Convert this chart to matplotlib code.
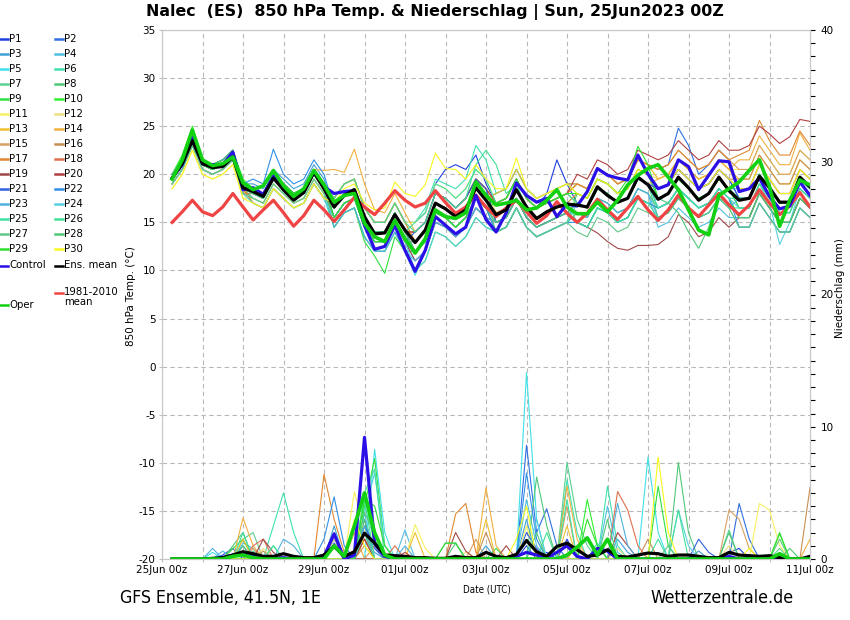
import numpy as np
import matplotlib
matplotlib.use("Agg")
import matplotlib.pyplot as plt
from matplotlib.lines import Line2D
from matplotlib.ticker import MultipleLocator

# forecast steps: 25Jun2023 06z ... 11Jul2023 00z, every 6 h
hours = np.arange(6, 385, 6)
days = hours / 24.0

tick_days = [0, 2, 4, 6, 8, 10, 12, 14, 16]
tick_labels = ["25Jun 00z", "27Jun 00z", "29Jun 00z", "01Jul 00z", "03Jul 00z",
               "05Jul 00z", "07Jul 00z", "09Jul 00z", "11Jul 00z"]

# 850 hPa temperature (deg C)
t_ensmean = [19.6, 21.1, 23.5, 21.1, 20.7, 20.8, 21.8, 18.6, 18.2, 17.7, 19.6, 18.4, 17.3, 18.1, 20.2, 18.5,
             16.6, 17.8, 18.4, 15.6, 13.8, 13.9, 15.8, 14.2, 12.9, 14.2, 17.0, 16.4, 15.6, 16.3, 18.6, 17.3,
             15.8, 16.3, 18.4, 16.6, 15.4, 16.1, 16.6, 16.9, 16.8, 16.6, 18.7, 17.8, 17.1, 17.5, 19.7, 18.9,
             17.4, 18.0, 19.7, 18.6, 17.3, 18.0, 19.7, 18.3, 17.3, 17.5, 19.8, 18.6, 17.1, 17.1, 19.7, 18.7]
t_control = [19.6, 21.0, 23.8, 21.1, 21.0, 21.0, 22.3, 18.4, 18.6, 17.9, 19.8, 18.4, 17.4, 18.2, 20.3, 18.7,
             18.0, 18.2, 18.3, 14.7, 12.2, 12.5, 14.7, 12.1, 9.9, 12.1, 15.6, 14.7, 13.8, 14.5, 17.8, 15.3,
             14.0, 16.0, 19.1, 17.8, 17.1, 17.5, 15.6, 16.9, 16.7, 18.2, 20.6, 19.9, 19.6, 19.4, 22.0, 20.0,
             18.5, 18.9, 21.5, 20.8, 18.4, 19.9, 21.4, 21.3, 18.2, 18.5, 19.6, 17.7, 16.4, 16.7, 19.2, 17.8]
t_oper = [19.5, 21.5, 24.6, 21.5, 20.9, 21.1, 21.8, 19.1, 18.4, 18.8, 20.4, 18.8, 17.7, 18.5, 20.4, 18.9,
          17.1, 17.8, 18.0, 14.9, 13.5, 13.0, 15.2, 13.3, 11.8, 13.3, 16.3, 15.6, 15.4, 16.0, 19.2, 17.8,
          16.8, 17.0, 17.3, 16.3, 16.5, 17.3, 18.4, 16.6, 15.9, 15.9, 17.1, 16.1, 17.3, 18.9, 19.9, 20.6,
          21.0, 19.7, 18.4, 16.3, 14.2, 13.7, 17.8, 18.5, 19.2, 20.4, 21.5, 18.7, 14.6, 17.3, 19.4, 18.9]
t_clim = [15.0, 16.1, 17.3, 16.1, 15.7, 16.6, 18.0, 16.6, 15.25, 16.3, 17.3, 16.0, 14.6, 15.7, 17.3, 16.3,
          15.1, 16.3, 17.6, 16.6, 15.8, 17.0, 18.3, 17.3, 16.6, 17.0, 18.3, 17.05, 15.95, 16.6, 17.85, 16.6,
          15.6, 16.5, 17.3, 16.1, 14.9, 15.7, 17.15, 15.95, 15.0, 15.95, 17.4, 16.3, 15.3, 16.5, 17.7, 16.3,
          15.2, 16.3, 17.85, 16.5, 15.6, 16.8, 18.0, 16.8, 15.8, 16.8, 18.4, 17.0, 15.8, 16.7, 18.1, 16.6]

t_p01 = [19.5, 21, 23.5, 21, 20.5, 21, 22, 18.5, 18.5, 18, 20, 19, 18, 18.5, 20.5, 19,
         17.5, 19, 19.5, 16.5, 15, 15, 17, 15, 15, 16, 19, 20.5, 21, 20.5, 22, 19,
         17, 17.5, 19.5, 17.5, 16.5, 18, 21.5, 19, 17, 16.5, 18.5, 18, 17, 17.5, 19.5, 19,
         18.5, 19, 20.5, 19.5, 18.5, 19, 20.5, 19.5, 17.5, 17.5, 20, 18.5, 17, 17, 19.5, 18.5]
t_p02 = [19, 20.5, 23, 20.5, 20, 20.5, 21.5, 18, 18, 17.5, 19.5, 18.5, 17.5, 18, 20, 18.5,
         15.5, 17, 17.5, 14.5, 13, 13, 15, 13, 13, 14, 17, 16.5, 15.5, 16.5, 18.5, 17.5,
         18, 18.5, 20.5, 18.5, 17.5, 18, 18.5, 19, 19, 18.5, 20.5, 20, 19, 19.5, 21.5, 21,
         20.5, 21, 24.8, 23, 20, 21, 22.5, 21.5, 18.5, 18.5, 21, 19.5, 18, 18, 20.5, 19.5]
t_p03 = [20, 21.5, 24, 21.5, 21, 21.5, 22.5, 19, 19, 18.5, 20.5, 19.5, 18.5, 19, 21, 19.5,
         16.5, 18, 18.5, 15.5, 14, 14, 16, 14, 12, 13, 16, 15.5, 14.5, 15.5, 17.5, 16.5,
         15, 15.5, 17.5, 15.5, 14.5, 15, 15.5, 16, 15, 14.5, 16.5, 16, 15, 15.5, 17.5, 17,
         16.5, 17, 18.5, 17.5, 16.5, 17, 18.5, 17.5, 15.5, 15.5, 18, 16.5, 15, 15, 17.5, 16.5]
t_p04 = [19.5, 21, 23, 21, 20.5, 21, 22, 18.5, 17.5, 17, 19, 18, 17, 17.5, 19.5, 18,
         15.5, 17, 17.5, 14.5, 13, 13, 15, 13, 11, 12, 15, 14.5, 13.5, 14.5, 16.5, 15.5,
         14, 14.5, 16.5, 14.5, 13.5, 14, 14.5, 15, 16, 15.5, 17.5, 17, 16, 16.5, 18.5, 18,
         14.5, 15, 16.5, 15.5, 14.5, 15, 16.5, 15.5, 15.5, 15.5, 18, 16.5, 15, 15, 17.5, 16.5]
t_p05 = [19, 20.5, 23, 20.5, 20, 20.5, 21.5, 18, 17, 16.5, 18.5, 17.5, 16.5, 17, 19, 17.5,
         14.5, 16, 16.5, 13.5, 12, 12, 14, 12, 9.5, 12, 15, 14.5, 13.5, 14.5, 16.5, 15.5,
         15, 15.5, 17.5, 15.5, 14.5, 15, 15.5, 16, 15, 14.5, 16.5, 16, 15, 15.5, 17.5, 17,
         17.5, 18, 19.5, 18.5, 17.5, 18, 19.5, 18.5, 16.5, 16.5, 19, 17.5, 16, 16, 18.5, 17.5]
t_p06 = [19.5, 21, 23.5, 21, 20.5, 21, 22, 18.5, 18.5, 18, 20, 19, 18, 18.5, 20.5, 19,
         17.5, 19, 19.5, 16.5, 15, 15, 17, 15, 15, 16.5, 19.5, 19, 18.5, 19.5, 23, 21.5,
         18, 18.5, 20.5, 18.5, 17.5, 18, 18.5, 19, 18, 17.5, 19.5, 19, 18, 18.5, 20.5, 20,
         17.5, 18, 19.5, 18.5, 17.5, 18, 19.5, 18.5, 18.5, 18.5, 21, 19.5, 18, 18, 20.5, 19.5]
t_p07 = [20, 21.5, 24, 21.5, 21, 21.5, 22.5, 19, 18, 17.5, 19.5, 18.5, 17.5, 18, 20, 18.5,
         15.5, 17, 17.5, 14.5, 13, 13, 15, 13, 13, 14, 17, 16.5, 15.5, 16.5, 18.5, 17.5,
         17, 17.5, 19.5, 17.5, 16.5, 17, 17.5, 18, 17, 16.5, 18.5, 18, 17, 17.5, 19.5, 19,
         15.5, 16, 17.5, 16.5, 15.5, 16, 17.5, 16.5, 14.5, 14.5, 17, 15.5, 14, 14, 16.5, 15.5]
t_p08 = [19.5, 21, 23.5, 21, 20.5, 21, 22, 18.5, 17.5, 17, 19, 18, 17, 17.5, 19.5, 18,
         14.5, 16, 16.5, 13.5, 12, 12, 14, 12, 12, 13, 16, 15.5, 14.5, 15.5, 17.5, 16.5,
         14, 14.5, 16.5, 14.5, 13.5, 14, 14.5, 15, 16, 15.5, 17.5, 17, 16, 16.5, 18.5, 18,
         16.5, 17, 18.5, 17.5, 16.5, 17, 18.5, 17.5, 15.5, 15.5, 18, 16.5, 15, 15, 17.5, 16.5]
t_p09 = [20, 21.5, 24.5, 21.5, 21, 21.5, 22.5, 19, 18, 17.5, 19.5, 18.5, 17.5, 18, 20, 18.5,
         14.5, 16, 16.5, 13, 11.5, 9.7, 13.5, 12, 10, 11, 14, 13.5, 12.5, 13.5, 15.5, 14.5,
         14, 14.5, 16.5, 14.5, 13.5, 14, 14.5, 15, 18, 17.5, 19.5, 19, 18, 18.5, 20.5, 20,
         17.5, 18, 19.5, 18.5, 17.5, 18, 19.5, 18.5, 16.5, 16.5, 19, 17.5, 16, 16, 18.5, 17.5]
t_p10 = [20, 22, 25, 21.5, 21, 21.5, 22.5, 19.5, 18.5, 18, 20, 19, 18, 18.5, 20.5, 19,
         16.5, 18, 18.5, 15.5, 14, 14, 16, 14, 14, 15, 18, 17.5, 16.5, 17.5, 19.5, 18.5,
         15, 15.5, 17.5, 15.5, 14.5, 15, 15.5, 16, 15, 14.5, 16.5, 16, 15, 15.5, 17.5, 17,
         16.5, 17, 18.5, 17.5, 16.5, 17, 18.5, 17.5, 15.5, 15.5, 18, 16.5, 15, 15, 17.5, 16.5]
t_p11 = [19, 20.5, 23, 20.5, 20, 20.5, 21.5, 18, 17, 16.5, 18.5, 17.5, 16.5, 17, 19, 17.5,
         17.5, 19, 19.5, 16.5, 15, 15, 17, 15, 15, 16, 19, 18.5, 17.5, 18.5, 20.5, 19.5,
         17, 17.5, 19.5, 17.5, 16.5, 17, 17.5, 18, 19, 18.5, 20.5, 20, 19, 19.5, 21.5, 21,
         19.5, 20, 21.5, 20.5, 19.5, 20, 21.5, 20.5, 20.5, 20.5, 23, 21.5, 20, 20, 22.5, 21.5]
t_p12 = [18.5, 20, 22.5, 20, 19.5, 20, 21, 17.5, 17.5, 17, 19, 18, 17, 17.5, 19.5, 18,
         16.5, 18, 18.5, 15.5, 14, 14, 16, 14, 14, 15, 18, 17.5, 16.5, 17.5, 19.5, 18.5,
         16, 16.5, 18.5, 16.5, 15.5, 16, 16.5, 17, 18, 17.5, 19.5, 19, 18, 18.5, 20.5, 20,
         19.5, 20, 21.5, 20.5, 19.5, 20, 21.5, 20.5, 18.5, 18.5, 21, 19.5, 18, 18, 20.5, 19.5]
t_p13 = [19.5, 21, 23.5, 21, 20.5, 21, 22, 18.5, 18, 17.5, 19.5, 18.5, 17.5, 18, 20, 18.5,
         17.5, 19, 19.5, 16.5, 15, 15, 17, 15, 13, 14, 17, 16.5, 15.5, 16.5, 18.5, 17.5,
         18, 18.5, 20.5, 18.5, 17.5, 18, 18.5, 19, 19, 18.5, 20.5, 20, 19, 19.5, 21.5, 21,
         19.5, 20, 21.5, 20.5, 19.5, 20, 21.5, 20.5, 19.5, 19.5, 22, 20.5, 19, 19, 21.5, 20.5]
t_p14 = [19, 20.5, 23, 20.5, 20, 20.5, 21.5, 18, 18.5, 18, 20, 19, 18, 18.5, 20.5, 20.4,
         20.5, 20.2, 22.6, 19, 16.3, 16, 18, 16, 14, 15, 18, 17.5, 16.5, 17.5, 19.5, 18.5,
         17, 17.5, 19.5, 17.5, 16.5, 17, 17.5, 18, 17, 16.5, 18.5, 18, 17, 17.5, 19.5, 19,
         19.5, 20, 21.5, 20.5, 19.5, 20, 21.5, 20.5, 21.5, 21.5, 24, 22.5, 21, 21, 24.3, 22.5]
t_p15 = [19.5, 21, 23.5, 21, 20.5, 21, 22, 18.5, 17, 16.5, 18.5, 17.5, 16.5, 17, 19, 17.5,
         16.5, 18, 18.5, 15.5, 14, 14, 16, 14, 14, 15, 18, 17.5, 16.5, 17.5, 19.5, 18.5,
         17, 17.5, 19.5, 17.5, 16.5, 17, 17.5, 18, 19, 18.5, 20.5, 20, 19, 19.5, 21.5, 21,
         20.5, 21, 22.5, 21.5, 20.5, 21, 22.5, 21.5, 20.5, 20.5, 23, 21.5, 20, 20, 22.5, 21.5]
t_p16 = [19, 20.5, 23, 20.5, 20, 20.5, 21.5, 18, 18, 17.5, 19.5, 18.5, 17.5, 18, 20, 18.5,
         16.5, 18, 18.5, 15.5, 14, 14, 16, 14, 12, 13, 16, 15.5, 14.5, 15.5, 17.5, 16.5,
         16, 16.5, 18.5, 16.5, 15.5, 16, 16.5, 17, 18, 17.5, 19.5, 19, 18, 18.5, 20.5, 20,
         18.5, 19, 20.5, 19.5, 18.5, 19, 20.5, 19.5, 19.5, 19.5, 22, 20.5, 19, 19, 21.5, 20.5]
t_p17 = [19.5, 21, 23.5, 21, 20.5, 21, 22, 18.5, 17, 16.5, 18.5, 17.5, 16.5, 17, 19, 17.5,
         17.5, 19, 19.5, 16.5, 15, 15, 17, 15, 13, 14, 17, 16.5, 15.5, 16.5, 18.5, 17.5,
         17, 17.5, 19.5, 17.5, 16.5, 17, 17.5, 18, 19, 18.5, 20.5, 20, 19, 19.5, 21.5, 21,
         20.5, 21, 22.5, 21.5, 20.5, 21, 22.5, 21.5, 22, 22.5, 25.6, 23.5, 22, 22, 24.5, 23]
t_p18 = [20, 21.5, 24, 21.5, 21, 21.5, 22.5, 19, 18.5, 18, 20, 19, 18, 18.5, 20.5, 19,
         16.5, 18, 18.5, 15.5, 14, 14, 16, 14, 14, 15, 18, 17.5, 16.5, 17.5, 19.5, 18.5,
         15, 15.5, 17.5, 15.5, 14.5, 15, 15.5, 16, 17, 16.5, 18.5, 18, 17, 17.5, 19.5, 19,
         18.5, 19, 20.5, 19.5, 18.5, 19, 20.5, 19.5, 18.5, 18.5, 21, 19.5, 18, 18, 20.5, 19.5]
t_p19 = [19.5, 21, 23.5, 21, 20.5, 21, 22, 18.5, 18, 17.5, 19.5, 18.5, 17.5, 18, 20, 18.5,
         15.5, 17, 17.5, 14.5, 13, 13, 15, 13, 11, 12, 15, 14.5, 13.5, 14.5, 16.5, 15.5,
         15, 15.5, 17.5, 15.5, 14.5, 15, 15.5, 16, 15, 14.5, 13.9, 13, 12.3, 12.1, 12.6, 12.6,
         12.7, 13.5, 15.8, 15, 13.5, 14, 15.5, 14.5, 15.5, 15.5, 18, 16.5, 15, 15, 17.5, 16.5]
t_p20 = [19.5, 21, 23.5, 21, 20.5, 21, 22, 18.5, 18.5, 18, 20, 19, 18, 18.5, 20.5, 19,
         16.5, 18, 18.5, 15.5, 14, 14, 16, 14, 14, 15, 18, 17.5, 16.5, 17.5, 19.5, 18.5,
         17, 17.5, 19.5, 17.5, 16.5, 17, 17.5, 18, 20, 19.5, 21.5, 21, 20, 20.5, 22.5, 22,
         21.5, 22, 23.5, 22.5, 21.5, 22, 23.5, 22.5, 22.5, 23, 25, 24.2, 23.2, 23.9, 25.7, 25.5]
t_p21 = [19.5, 21, 23.5, 21, 20.5, 21, 22, 18.5, 18.5, 18, 20, 19, 18, 18.5, 20.5, 19,
         15.5, 17, 17.5, 14.5, 13, 13, 15, 13, 14, 15, 18, 17.5, 16.5, 17.5, 19.5, 18.5,
         15, 15.5, 17.5, 15.5, 14.5, 15, 15.5, 16, 17, 16.5, 18.5, 18, 17, 17.5, 19.5, 19,
         18.5, 19, 20.5, 19.5, 18.5, 19, 20.5, 19.5, 17.5, 17.5, 20, 18.5, 17, 17, 19.5, 18.5]
t_p22 = [20, 21.5, 24, 21.5, 21, 21.5, 22.5, 19, 19.5, 19, 22.6, 20, 19, 19.5, 21.5, 20,
         16.5, 18, 18.5, 15.5, 14, 14, 16, 14, 12, 13, 16, 15.5, 14.5, 15.5, 17.5, 16.5,
         14, 14.5, 16.5, 14.5, 13.5, 14, 14.5, 15, 15, 14.5, 16.5, 16, 15, 15.5, 17.5, 17,
         16.5, 17, 18.5, 17.5, 16.5, 17, 18.5, 17.5, 14.5, 14.5, 17, 15.5, 14, 14, 16.5, 15.5]
t_p23 = [19.5, 21, 23.5, 21, 20.5, 21, 22, 18.5, 18, 17.5, 19.5, 18.5, 17.5, 18, 20, 18.5,
         14.5, 16, 16.5, 13.5, 12, 12, 14, 12, 11, 12, 15, 14.5, 13.5, 14.5, 16.5, 15.5,
         15, 15.5, 17.5, 15.5, 14.5, 15, 15.5, 16, 16, 15.5, 17.5, 17, 16, 16.5, 18.5, 18,
         15.5, 16, 17.5, 16.5, 15.5, 16, 17.5, 16.5, 17.5, 17.5, 20, 18.5, 17, 17, 19.5, 18.5]
t_p24 = [19, 20.5, 23, 20.5, 20, 20.5, 21.5, 18, 17, 16.5, 18.5, 17.5, 16.5, 17, 19, 17.5,
         15.5, 17, 17.5, 14.5, 13, 13, 15, 13, 10, 11, 14, 13.5, 12.5, 13.5, 15.5, 14.5,
         14, 14.5, 16.5, 14.5, 13.5, 14, 14.5, 15, 17, 16.5, 18.5, 18, 17, 17.5, 19.5, 19,
         16.5, 17, 18.5, 17.5, 16.5, 17, 18.5, 17.5, 16.5, 16.5, 19, 17, 12.7, 15, 18.5, 17.5]
t_p25 = [19.5, 21, 23.5, 21, 20.5, 21, 22, 18.5, 18.5, 18, 20, 19, 18, 18.5, 20.5, 19,
         16.5, 18, 18.5, 15.5, 14, 14, 16, 14, 15, 16, 19, 18.5, 17.5, 18.5, 20.5, 19.5,
         17, 17.5, 19.5, 17.5, 16.5, 17, 17.5, 18, 17, 16.5, 18.5, 18, 17, 17.5, 19.5, 19,
         16.5, 17, 18.5, 17.5, 16.5, 17, 18.5, 17.5, 17.5, 17.5, 20, 18.5, 17, 17, 19.5, 18.5]
t_p26 = [19.5, 21, 23.5, 21, 20.5, 21, 22, 18.5, 18, 17.5, 19.5, 18.5, 17.5, 18, 20, 18.5,
         17.5, 19, 19.5, 16.5, 15, 15, 17, 15, 14, 15, 18, 17.5, 16.5, 17.5, 21, 22.5,
         21, 18, 19, 16.5, 15.5, 16, 16.5, 17, 15, 14.5, 16.5, 16, 15, 15.5, 17.5, 17,
         15.5, 16, 17.5, 16.5, 15.5, 16, 17.5, 16.5, 16.5, 16.5, 19, 17.5, 16, 16, 18.5, 17.5]
t_p27 = [19, 20.5, 23, 20.5, 20, 20.5, 21.5, 18, 17.5, 17, 19, 18, 17, 17.5, 19.5, 18,
         15.5, 17, 17.5, 14.5, 13, 13, 15, 13, 13, 14, 17, 16.5, 15.5, 16.5, 18.5, 17.5,
         14, 14.5, 16.5, 14.5, 13.5, 14, 14.5, 15, 14, 13.5, 15.5, 15, 14, 14.5, 16.5, 16,
         15.5, 16, 17.5, 16.5, 15.5, 16, 17.5, 16.5, 14.5, 14.5, 17, 15.5, 14, 14, 16.5, 15.5]
t_p28 = [20, 21.5, 24, 21.5, 21, 21.5, 22.5, 19, 18, 17.5, 19.5, 18.5, 17.5, 18, 20, 18.5,
         16.5, 18, 18.5, 15.5, 14, 14, 16, 14, 12, 13, 16, 15.5, 14.5, 15.5, 17.5, 16.5,
         15, 15.5, 17.5, 15.5, 14.5, 15, 15.5, 16, 17, 16.5, 18.5, 18, 17, 17.5, 19.5, 19,
         17.5, 17, 16, 14, 12.3, 14.5, 17.5, 17, 15.5, 15.5, 18, 16.5, 15, 15, 17.5, 16.5]
t_p29 = [19.5, 21, 23.5, 21, 20.5, 21, 22, 18.5, 18.5, 18, 20, 19, 18, 18.5, 20.5, 19,
         15.5, 17, 17.5, 14.5, 13, 13, 15, 13, 12, 13, 16, 15.5, 14.5, 15.5, 17.5, 16.5,
         17, 17.5, 19.5, 17.5, 16.5, 17, 17.5, 18, 18, 17.5, 19.5, 19, 18, 19.5, 22.9, 21,
         17.5, 18, 19.5, 18.5, 17.5, 18, 19.5, 18.5, 17.5, 17.5, 20, 18.5, 17, 17, 19.5, 18.5]
t_p30 = [18.5, 20, 22.5, 20, 19.5, 20, 21, 17.5, 17, 16.5, 18.5, 17.5, 16.5, 17, 19, 17.5,
         17, 18.5, 19, 17, 16.3, 16.5, 19.2, 18, 17.7, 18.9, 22.2, 20.6, 20.5, 19.5, 21, 19.5,
         18.5, 18.5, 21.7, 18.5, 17.5, 18, 18.5, 19, 18, 17.5, 19.5, 19, 18, 18.5, 20.5, 20,
         18.5, 19, 20.5, 19.5, 18.5, 19, 20.5, 19.5, 18.5, 18.5, 21, 19.5, 18, 18, 20.5, 19.5]

# 6-hourly precipitation (mm)
r_ensmean = [0, 0, 0, 0, 0.05, 0.1, 0.3, 0.55, 0.4, 0.2, 0.2, 0.4, 0.2, 0.1, 0.1, 0.3,
             0.95, 0.2, 0.55, 1.95, 1.2, 0.3, 0.25, 0.2, 0.1, 0.1, 0.05, 0.05, 0.2, 0.1, 0.1, 0.5,
             0.2, 0.1, 0.35, 1.4, 0.55, 0.2, 0.95, 1.2, 0.7, 0.2, 0.3, 0.7, 0.2, 0.15, 0.3, 0.45,
             0.4, 0.2, 0.3, 0.3, 0.2, 0.1, 0.1, 0.5, 0.3, 0.25, 0.2, 0.25, 0.1, 0, 0, 0.2]
r_control = [0, 0, 0, 0, 0, 0.1, 0.3, 0.4, 0.2, 0, 0, 0.1, 0, 0, 0, 0.2,
             1.9, 0, 0.3, 9.2, 1.2, 0.2, 0, 0, 0, 0, 0, 0, 0, 0, 0, 0,
             0, 0, 0.2, 0.5, 0.3, 0.1, 0.5, 1.0, 0.2, 0, 0.8, 0.6, 0, 0, 0, 0,
             0, 0, 0, 0, 0, 0, 0, 0.2, 0, 0, 0, 0, 0, 0, 0, 0]
r_oper = [0, 0, 0, 0, 0, 0, 0.2, 0.3, 0.1, 0, 0, 0, 0, 0, 0, 0,
          1.0, 0.2, 2.5, 5.0, 2.0, 0.3, 0, 0, 0, 0, 0, 0, 0, 0, 0, 0,
          0, 0, 0, 0, 0, 0, 0, 0.3, 0.9, 1.6, 0.3, 1.5, 0, 0, 0, 0,
          0, 0, 0, 0, 0, 0, 0, 0, 0, 0, 0, 0, 0.4, 0, 0, 0]

r_p01 = [0, 0, 0, 0, 0, 0.3, 0.8, 0, 0, 0, 0, 0, 0, 0, 0, 0,
         1.0, 0, 0, 2.0, 0.8, 0, 0, 0, 0, 0, 0, 0, 0, 0, 0, 0,
         0, 0, 0, 1.0, 0, 0.5, 0, 1.5, 0, 0, 0, 0, 0, 0, 0, 0,
         0, 0, 0, 0, 0, 0, 0, 0.5, 0.8, 0, 0, 0, 0, 0, 0, 0]
r_p02 = [0, 0, 0, 0, 0, 0, 0, 0, 0, 0, 0, 0, 0, 0, 0, 0,
         1.5, 0, 0, 3.0, 0, 0, 0, 0, 0, 0, 0, 0, 0, 0, 0, 0,
         0, 0, 0, 8.6, 2.0, 3.8, 1.0, 0, 0, 0, 0, 0, 0, 0, 0, 0,
         0, 0, 0, 0, 0, 0, 0, 0, 4.2, 1.5, 0, 0, 0, 0, 0, 0]
r_p03 = [0, 0, 0, 0, 0, 0, 0, 1.0, 0, 0, 0, 0, 0, 0, 0, 0,
         2.5, 0, 0, 1.5, 0.5, 0, 0, 0, 0, 0, 0, 0, 0, 0, 0, 1.0,
         0, 0, 0, 3.0, 0, 0, 0, 0, 0, 0, 0, 0, 1.5, 0.5, 0, 0,
         0, 0, 0, 0, 0.6, 0, 0, 0, 0, 0, 0, 0, 0, 0, 0, 0]
r_p04 = [0, 0, 0, 0, 0, 0.6, 0, 1.2, 0.8, 0, 0, 0, 0, 0, 0, 0,
         0, 0, 0, 3.5, 0, 0, 0, 2.2, 0, 0, 0, 0, 0, 0, 0, 0,
         0, 0, 0, 4.5, 1.0, 0, 0, 0, 0, 0, 0, 4.0, 0.5, 0, 0, 0,
         0, 0, 0, 0, 0, 0, 0, 0, 0, 0, 0, 0, 0, 0, 0, 0]
r_p05 = [0, 0, 0, 0, 0.5, 0, 0, 0, 0, 0, 0, 0, 0, 0, 0, 0,
         0, 0, 0, 0, 8.3, 2.0, 0, 0, 0, 0, 0, 0, 0, 0, 0, 0,
         0, 0, 0, 14.1, 3.0, 0, 0, 0, 0, 0, 0, 0, 0, 0, 0, 7.7,
         2.0, 0, 0, 0, 0, 0, 0, 0, 0, 0, 0, 0, 0, 0, 0, 0]
r_p06 = [0, 0, 0, 0, 0, 0, 0, 0, 0, 0, 2.5, 5.0, 2.0, 0, 0, 0,
         0, 0, 0, 4.0, 1.5, 0, 0, 0, 0, 0, 0, 0, 0, 0, 0, 0,
         0, 0, 0, 0, 0, 0, 0, 6.0, 2.0, 0, 0, 5.5, 1.0, 0, 0, 0,
         0, 0, 0, 0, 0, 0, 0, 0, 0, 0, 0, 0, 0, 0, 0, 0]
r_p07 = [0, 0, 0, 0, 0, 0, 0, 1.5, 2.0, 0, 0, 0, 0, 0, 0, 0,
         0, 0, 0, 2.5, 0, 0, 0, 0, 0, 0, 0, 0, 0, 0, 0, 0,
         0, 0, 0, 0, 0, 0, 0, 7.3, 3.0, 1.0, 0, 0, 0, 0, 0, 0,
         0, 0, 0, 0, 0, 0, 0, 2.2, 0, 0, 0, 0, 0.8, 0, 0, 0]
r_p08 = [0, 0, 0, 0, 0, 0, 1.0, 2.0, 0, 0, 0, 0, 0, 0, 0, 0,
         0, 0, 0, 3.0, 0, 0, 0, 0, 0, 0, 0, 0, 1.2, 0, 0, 0,
         0, 0, 0, 0, 6.2, 2.5, 0, 0, 0, 0, 0, 0, 0, 0, 0, 0,
         0, 0, 7.3, 2.0, 0, 0, 0, 0, 0, 0, 0, 0, 0, 0, 0, 0]
r_p09 = [0, 0, 0, 0, 0, 0, 0.8, 1.5, 0, 0, 0, 0, 0, 0, 0, 0,
         2.0, 0, 0, 4.0, 7.6, 1.0, 0, 0, 0, 0, 0, 0, 0, 0, 0, 0,
         0.8, 0, 0, 0, 0, 0, 0, 0, 0, 0, 0, 0, 0, 0, 0, 0,
         5.5, 1.0, 0, 0, 0, 0, 0, 0, 0, 0, 0, 0, 0, 0, 0, 0]
r_p10 = [0, 0, 0, 0, 0, 0, 0, 0, 0, 0, 0, 0, 0, 0, 0, 0,
         1.0, 0, 0, 5.0, 1.0, 0, 0, 0, 0, 0, 0, 0, 0, 0, 0, 0,
         0, 0, 0, 0, 0, 0, 0, 0, 0, 4.5, 1.0, 0, 0, 0, 0, 0,
         0, 0, 0, 0, 0, 0, 0, 0, 0, 0, 0, 0, 1.9, 0, 0, 0]
r_p11 = [0, 0, 0, 0, 0, 0, 0, 0, 0, 0, 0, 0, 0, 0, 0, 0,
         0, 0, 5.1, 2.0, 0, 0, 0, 0, 2.6, 0.8, 0, 0, 0, 0, 0, 0,
         0, 0, 0, 2.5, 0, 0, 0, 0, 0, 0, 0, 0, 0, 0, 0, 0,
         0, 0, 0, 0, 0, 0, 0, 0, 0, 0, 4.2, 3.7, 1.0, 0, 0, 0]
r_p12 = [0, 0, 0, 0, 0, 0, 0, 0, 0, 0.8, 0, 0, 0, 0, 0, 0,
         1.5, 0, 0, 0, 0, 0, 0, 0, 0, 0, 0, 0, 0, 0.5, 0, 0,
         0, 0, 0, 0, 0, 0, 0, 0, 0, 0, 0, 0, 0.8, 0, 0, 0,
         0, 0, 0, 0, 0, 0, 0, 1.0, 0, 0, 0, 0, 0, 0, 0, 0]
r_p13 = [0, 0, 0, 0, 0, 0, 0, 1.5, 0, 0, 0, 0, 0, 0, 0, 0,
         0, 0, 0, 1.5, 0, 0, 0, 0, 2.0, 0, 0, 0, 0, 0, 0, 3.0,
         0, 0, 0, 0, 0, 0, 0, 2.5, 0, 0, 0, 0, 0, 0, 0, 0,
         0, 0, 0, 0, 0, 0, 0, 0, 0, 0, 0, 0, 0, 0, 0, 0]
r_p14 = [0, 0, 0, 0, 0, 0, 0, 3.1, 1.0, 0, 0, 0, 0, 0, 0, 0,
         0, 0, 2.0, 0, 0, 0, 0, 0, 0, 0, 0, 0, 0, 0, 0, 5.4,
         1.0, 0, 0, 0, 0, 0, 0, 5.5, 1.5, 0, 0, 0, 0, 0, 0, 0,
         0, 0, 0, 0, 0, 0, 0, 0, 0, 0, 0, 0, 0, 0, 0, 1.5]
r_p15 = [0, 0, 0, 0, 0, 0, 0, 0, 0.8, 0, 0, 0, 0, 0, 0, 0,
         1.0, 0, 0, 0, 1.0, 0, 0, 0, 0, 0, 0, 0, 0, 0, 1.5, 0,
         0, 0, 0, 0, 0, 0, 0, 4.0, 0, 0, 0, 0, 0, 0, 0, 0,
         0, 0, 0, 0, 0, 0, 0, 3.7, 3.0, 0.8, 0, 0, 0, 0, 0, 0]
r_p16 = [0, 0, 0, 0, 0, 0, 0, 0, 0, 0.6, 0, 0, 0, 0, 0, 0,
         0, 0, 0, 1.0, 0, 0, 0, 0, 0, 0, 0, 0, 0, 0, 0, 2.0,
         0, 0, 0, 0, 0, 0, 0, 0, 0, 0, 0, 0, 0, 0, 0, 1.5,
         0, 0, 0, 0, 0, 0, 0, 0, 0, 0, 0, 0, 0, 0, 0, 5.4]
r_p17 = [0, 0, 0, 0, 0, 0, 0, 0, 0, 0, 0, 0, 0, 0, 0, 6.4,
         3.0, 0.5, 0, 0, 0, 0, 0, 0, 0, 0, 0, 0, 3.4, 4.2, 0.5, 0,
         0, 0, 0, 0, 0, 0, 0, 0, 1.0, 0, 0, 0, 0, 0, 0, 0,
         0, 0, 0, 0, 0, 0, 0, 0, 0, 0, 0, 0, 0, 0, 0, 0]
r_p18 = [0, 0, 0, 0, 0, 0, 0, 0, 1.0, 1.5, 0, 0, 0, 0, 0, 0,
         0, 0, 0, 1.5, 0, 0, 1.0, 0, 0, 0, 0, 0, 0, 0, 0, 0,
         0, 0, 0, 0, 0, 0, 0, 0, 0, 0, 0, 0, 5.1, 3.7, 1.0, 0,
         0, 0, 0, 0, 0, 0, 0, 0, 0, 0, 0, 0, 0, 0, 0, 0]
r_p19 = [0, 0, 0, 0, 0, 0, 0, 0, 0, 1.5, 0.5, 0, 0, 0, 0, 0,
         0, 0, 0, 0, 0, 0, 0, 0, 0, 0, 0, 0, 2.0, 0.6, 0, 0,
         0, 1.0, 0, 0, 0, 0, 0, 0, 0, 0, 0, 0, 0, 0, 0, 0,
         0, 0, 0, 0, 0, 0, 0, 0, 0, 0, 0, 0, 0, 0, 0, 0]
r_p20 = [0, 0, 0, 0, 0, 0, 0, 0, 0, 0, 0, 0, 0, 0, 0, 0,
         0, 0, 0, 1.5, 0, 0, 0, 0.5, 0, 0, 0, 0, 0, 0, 0, 0,
         0, 0, 0, 0, 0, 0, 0, 0, 0, 0, 0, 0, 2.0, 1.0, 0, 0,
         0, 0, 0, 0, 0, 0, 0, 0, 0, 0, 0, 0, 0, 0, 0, 0]
r_p21 = [0, 0, 0, 0, 0, 0, 0, 0, 0, 0, 0, 0, 0, 0, 0, 0,
         1.2, 0, 0, 2.5, 1.0, 0, 0, 0, 0, 0, 0, 0, 0, 0, 0, 0,
         0, 0, 0, 2.0, 0.8, 0, 0, 0, 0, 0, 0, 0, 0, 0, 0, 0,
         0, 0, 0, 0, 1.5, 0.5, 0, 0, 0, 0, 0, 0, 0, 0, 0, 0]
r_p22 = [0, 0, 0, 0, 0, 0, 0, 0, 0, 0, 0, 0, 0, 0, 0, 1.5,
         4.7, 1.0, 0, 2.0, 0, 0, 0, 0, 0, 0, 0, 0, 0, 0, 0, 0,
         0, 0, 0, 6.5, 1.5, 0, 0, 0, 0, 0, 0, 0, 0, 0, 0, 0,
         0, 0, 0, 0, 0, 0, 0, 0, 0, 0, 0, 0, 0, 0, 0, 0]
r_p23 = [0, 0, 0, 0, 0.8, 0, 0, 0, 0, 0, 0, 1.5, 1.0, 0, 0, 0,
         0, 0, 0, 2.5, 0, 0, 0, 1.0, 0, 0, 0, 0, 0, 0, 0, 0,
         0, 0, 0, 0, 0, 0, 0, 0, 0, 0, 0, 0, 4.2, 1.0, 0, 0,
         0, 0, 0, 0, 0, 0, 0, 0, 0, 0, 0, 0, 0, 0, 0, 0]
r_p24 = [0, 0, 0, 0, 0, 0, 0, 0, 0, 0, 0, 0, 0, 0, 0, 0,
         0, 0, 0, 3.5, 6.5, 1.0, 0, 0, 0, 0, 0, 0, 0, 0, 0, 0,
         0, 0, 0, 0, 3.0, 0, 0, 0, 0, 0, 0, 0, 0, 0, 0, 0,
         0, 0, 3.7, 1.0, 0, 0, 0, 0, 0, 0, 0, 0, 0, 0, 0, 0]
r_p25 = [0, 0, 0, 0, 0, 0, 0, 2.0, 0, 0, 1.0, 0, 0, 0, 0, 0,
         0, 0, 0, 5.0, 6.8, 0, 0, 0, 0, 0, 0, 0, 0, 0, 0, 0,
         0, 0, 0, 0, 0, 0, 0, 4.5, 0, 0, 0, 0, 0, 0, 0, 0,
         1.5, 0, 0, 0, 0, 0, 0, 0, 0, 0, 0, 0, 0, 0, 0, 0]
r_p26 = [0, 0, 0, 0, 0, 0, 0, 0, 0, 0, 1.0, 0, 0, 0, 0, 0,
         0, 0, 0, 4.5, 0, 0, 0, 0, 0, 0, 0, 0, 0, 0, 0, 0,
         0, 0, 0, 0, 0, 2.0, 0, 0, 0, 0, 1.2, 0, 0, 0, 0, 0,
         0, 0, 3.7, 0, 0, 0, 0, 0, 0, 0, 0, 0, 0, 0, 0, 0]
r_p27 = [0, 0, 0, 0, 0, 0, 0, 0, 0.6, 0, 0, 0, 0, 0, 0, 0,
         0, 0, 0, 2.0, 0, 0, 0, 0, 0, 0, 0, 1.2, 1.2, 0, 0, 0,
         0, 0, 0, 0, 0, 0, 0, 0, 0, 0, 0, 0, 0, 0, 0, 0,
         0, 1.0, 0, 0, 0, 0, 0, 0, 0, 0, 0, 0, 1.5, 0, 0, 0]
r_p28 = [0, 0, 0, 0, 0, 0, 0, 1.0, 0, 0, 0, 0, 0, 0, 0, 0,
         0, 0, 0, 3.5, 2.0, 0, 0, 0, 0, 0, 0, 0, 0, 0, 0, 0,
         0, 0, 0, 0, 2.0, 0, 0, 0, 0, 0, 0, 3.0, 0, 0, 0, 0,
         0, 0, 0, 0, 0, 0, 0, 2.0, 0, 0, 0, 0, 0, 0.8, 0, 0]
r_p29 = [0, 0, 0, 0, 0, 0, 0, 0, 0, 0, 0, 0, 0, 0, 0, 0,
         0, 0, 0, 4.5, 4.0, 1.0, 0, 0, 0, 0, 0, 1.2, 1.2, 0, 0, 0,
         0, 0, 0, 0, 0, 0, 0, 0, 0, 3.0, 1.0, 0, 0, 0, 0, 0,
         0, 0, 0, 0, 0, 0, 0, 0, 0, 0, 0, 0, 2.0, 0, 0, 0]
r_p30 = [0, 0, 0, 0, 0, 0, 0, 0, 0, 0, 0, 0, 0, 0, 0, 0,
         0, 0, 3.0, 1.0, 0, 0, 0, 0, 0, 0, 0, 0, 0, 0, 0, 0,
         0, 0, 1.5, 4.0, 0, 0, 0, 0, 0, 0, 0, 0, 0, 0, 0, 0,
         7.7, 2.0, 0, 0, 0, 0, 0, 0, 0, 0.8, 0, 0, 0, 0, 0, 0]

member_names = ["P%d" % k for k in range(1, 31)]
member_colors = ["#2040e0", "#3070e0", "#40a0d8", "#50c0e0", "#40e0e8", "#40e0b0",
                 "#58d090", "#50c878", "#30e040", "#30f030", "#f8f060", "#f0e080",
                 "#f0c030", "#f0b040", "#d8a060", "#c89050", "#e08830", "#e07050",
                 "#a04848", "#b04040", "#3060e0", "#3090e8", "#50b0e0", "#58d0e0",
                 "#40e0a0", "#40e098", "#60c888", "#50c878", "#30e030", "#f8f820"]

temps = [t_p01, t_p02, t_p03, t_p04, t_p05, t_p06, t_p07, t_p08, t_p09, t_p10,
         t_p11, t_p12, t_p13, t_p14, t_p15, t_p16, t_p17, t_p18, t_p19, t_p20,
         t_p21, t_p22, t_p23, t_p24, t_p25, t_p26, t_p27, t_p28, t_p29, t_p30]
rains = [r_p01, r_p02, r_p03, r_p04, r_p05, r_p06, r_p07, r_p08, r_p09, r_p10,
         r_p11, r_p12, r_p13, r_p14, r_p15, r_p16, r_p17, r_p18, r_p19, r_p20,
         r_p21, r_p22, r_p23, r_p24, r_p25, r_p26, r_p27, r_p28, r_p29, r_p30]

c_control = "#2a10e6"
c_mean = "#000000"
c_clim = "#f04444"
c_oper = "#12d012"

W, H = 850.0, 620.0

fig = plt.figure(figsize=(8.5, 6.2), dpi=100)
ax = fig.add_axes([162 / W, 61 / H, 648 / W, 529 / H])
ax2 = ax.twinx()

# temperature
for t, c in zip(temps, member_colors):
    ax.plot(days, t, color=c, lw=0.8, zorder=2)
ax.plot(days, t_clim, color=c_clim, lw=2.3, zorder=3)
ax.plot(days, t_control, color=c_control, lw=2.3, zorder=4)
ax.plot(days, t_ensmean, color=c_mean, lw=2.3, zorder=5)
ax.plot(days, t_oper, color=c_oper, lw=2.6, zorder=6)

# precipitation on the right axis
for r, c in zip(rains, member_colors):
    ax2.plot(days, r, color=c, lw=0.8, zorder=2)
ax2.plot(days, r_control, color=c_control, lw=2.3, zorder=4)
ax2.plot(days, r_ensmean, color=c_mean, lw=2.3, zorder=5)
ax2.plot(days, r_oper, color=c_oper, lw=2.6, zorder=6)

ax.set_xlim(0, 16)
ax.set_ylim(-20, 35)
ax2.set_ylim(0, 40)

ax.set_xticks(range(0, 17))
ax.set_xticklabels([tick_labels[tick_days.index(d)] if d in tick_days else "" for d in range(17)],
                   fontsize=7.5)
ax.set_yticks(range(-20, 36, 5))
ax.set_yticklabels([str(v) for v in range(-20, 36, 5)], fontsize=7.5)
ax.grid(True, color="#b8b8b8", ls=(0, (4, 3)), lw=0.8)
ax.set_axisbelow(True)
ax.tick_params(axis="both", length=2.5, color="#c0c0c0", pad=2)

ax2.set_yticks([0, 10, 20, 30, 40])
ax2.set_yticklabels(["0", "10", "20", "30", "40"], fontsize=7.5)
ax2.yaxis.set_minor_locator(MultipleLocator(1))
ax2.tick_params(axis="y", which="both", length=3.5, width=0.8, color="black", pad=4)

for a in (ax, ax2):
    for s in a.spines.values():
        s.set_color("#c8c8c8")
        s.set_linewidth(0.8)

fig.text(131 / W, 1 - 296 / H, "850 hPa Temp. (°C)", rotation=90, fontsize=7.5,
         ha="center", va="center")
fig.text(840 / W, 1 - 288 / H, "Niederschlag (mm)", rotation=90, fontsize=7.5,
         ha="center", va="center")
fig.text(487 / W, 1 - 589 / H, "Date (UTC)", fontsize=7, ha="center", va="center",
         fontstretch="condensed")

fig.text(435 / W, 1 - 12 / H, "Nalec  (ES)  850 hPa Temp. & Niederschlag | Sun, 25Jun2023 00Z",
         fontsize=11.4, fontweight="bold", ha="center", va="center")
fig.text(120 / W, 1 - 598 / H, "GFS Ensemble, 41.5N, 1E", fontsize=12.7, ha="left", va="center",
         fontstretch="condensed")
fig.text(650 / W, 1 - 598 / H, "Wetterzentrale.de", fontsize=12.7, ha="left", va="center",
         fontstretch="condensed")

# legend, two columns at the left edge
def legend_entry(x, y, color, label, lw=1.8, va="center", ty=None):
    fig.add_artist(Line2D([x / W, (x + 8) / W], [1 - y / H, 1 - y / H],
                          color=color, lw=lw, transform=fig.transFigure))
    fig.text((x + 9) / W, 1 - (y if ty is None else ty) / H, label, fontsize=7.3,
             ha="left", va=va, linespacing=0.95)

for k in range(15):
    y = 39.3 + 15 * k
    legend_entry(0, y, member_colors[2 * k], member_names[2 * k])
    legend_entry(55, y, member_colors[2 * k + 1], member_names[2 * k + 1])
legend_entry(0, 265.5, c_control, "Control")
legend_entry(55, 265.5, c_mean, "Ens. mean")
legend_entry(55, 292.5, c_clim, "1981-2010\nmean", va="top", ty=287.5)
legend_entry(0, 305, c_oper, "Oper")

fig.savefig("out.png", dpi=100)
